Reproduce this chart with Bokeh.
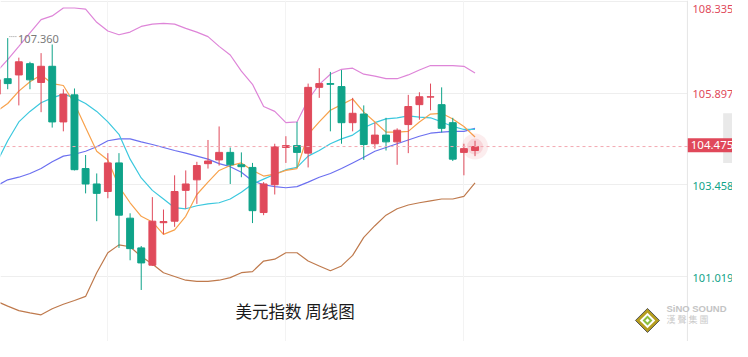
import numpy as np
from bokeh.plotting import figure
from bokeh.models import Range1d, Span, Label, Grid, FixedTicker, ColumnDataSource, BoxAnnotation
from bokeh.embed import file_html
from bokeh.resources import INLINE

# ---------------- data (weekly US Dollar Index) ----------------
opens = [105.87, 106.28, 106.38, 106.68, 106.18, 106.61, 105.13, 105.85, 103.89, 103.48,
         103.28, 104.04, 102.57, 101.78, 101.32, 102.45, 102.49, 103.31, 103.59, 104.02,
         104.12, 104.32, 103.99, 103.92, 102.72, 103.46, 104.45, 104.50, 104.30, 106.05,
         106.15, 106.07, 105.11, 105.34, 104.55, 104.78, 104.60, 105.06, 105.59, 105.79,
         105.59, 105.11, 104.32, 104.37]
highs = [106.33, 107.36, 106.84, 106.73, 106.96, 107.19, 106.00, 106.02, 104.25, 103.76,
         104.30, 104.30, 102.70, 101.83, 103.13, 102.80, 103.71, 103.84, 104.07, 104.65,
         105.01, 104.45, 104.32, 104.04, 103.53, 104.55, 104.75, 105.13, 106.15, 106.56,
         106.46, 106.51, 105.77, 105.57, 105.11, 105.24, 104.96, 105.85, 105.92, 106.15,
         106.05, 105.24, 104.55, 104.63]
lows = [105.57, 106.00, 105.57, 106.00, 105.39, 104.98, 104.88, 103.84, 103.23, 102.49,
        103.10, 101.78, 101.45, 100.66, 101.30, 102.14, 102.34, 102.82, 102.95, 103.89,
        103.97, 103.48, 103.66, 102.44, 102.65, 103.20, 104.04, 103.92, 103.92, 105.77,
        104.88, 104.55, 104.88, 104.12, 104.42, 104.37, 103.99, 104.30, 105.19, 105.44,
        104.85, 104.09, 103.71, 104.22]
closes = [106.25, 106.15, 106.73, 106.25, 106.61, 105.13, 105.87, 103.86, 103.48, 103.23,
          104.04, 102.65, 101.76, 101.38, 102.49, 102.48, 103.28, 103.48, 103.97, 104.09,
          104.32, 103.99, 103.94, 102.77, 103.48, 104.47, 104.50, 104.32, 106.05, 106.15,
          106.13, 105.11, 105.36, 104.53, 104.78, 104.60, 104.91, 105.54, 105.80, 105.80,
          104.96, 104.14, 104.42, 104.475]

ma5 = [105.41, 105.62, 105.95, 106.20, 106.38, 106.15, 106.10, 105.62, 104.98, 104.35,
       104.12, 103.41, 102.98, 102.62, 102.47, 102.14, 102.26, 102.62, 103.20, 103.53,
       103.84, 103.97, 104.04, 103.84, 103.69, 103.74, 103.84, 103.89, 104.80, 105.13,
       105.44, 105.59, 105.74, 105.39, 105.13, 104.86, 104.86, 104.88, 105.13, 105.34,
       105.36, 105.21, 105.01, 104.73]
ma10 = [104.04, 104.63, 105.13, 105.41, 105.64, 105.77, 105.87, 105.77, 105.62, 105.41,
        105.13, 104.80, 104.14, 103.64, 103.31, 103.08, 102.85, 102.82, 102.90, 102.95,
        102.98, 103.08, 103.26, 103.48, 103.61, 103.74, 103.86, 103.92, 104.22, 104.37,
        104.55, 104.68, 104.78, 104.98, 105.11, 105.21, 105.24, 105.29, 105.26, 105.24,
        105.13, 105.01, 104.93, 104.93]
ma20 = [103.43, 103.59, 103.66, 103.76, 103.89, 104.07, 104.22, 104.27, 104.35, 104.47,
        104.63, 104.68, 104.68, 104.60, 104.53, 104.45, 104.37, 104.30, 104.22, 104.14,
        104.02, 103.94, 103.79, 103.56, 103.46, 103.41, 103.38, 103.41, 103.53, 103.66,
        103.76, 103.89, 104.04, 104.19, 104.35, 104.45, 104.55, 104.65, 104.75, 104.83,
        104.86, 104.88, 104.88, 104.96]
boll_upper = [106.46, 106.79, 107.14, 107.50, 107.85, 107.95, 108.16, 108.16, 108.13, 107.78,
              107.55, 107.45, 107.52, 107.67, 107.73, 107.75, 107.73, 107.62, 107.52, 107.40,
              107.14, 106.91, 106.48, 106.13, 105.54, 105.41, 105.11, 105.13, 105.72, 106.13,
              106.40, 106.53, 106.56, 106.40, 106.35, 106.28, 106.28, 106.38, 106.51, 106.63,
              106.63, 106.63, 106.61, 106.43]
boll_lower = [100.36, 100.23, 100.11, 100.05, 100.00, 100.16, 100.28, 100.38, 100.49, 101.12,
              101.65, 101.86, 101.81, 101.55, 101.35, 101.12, 101.02, 100.92, 100.89, 100.89,
              100.92, 100.99, 101.12, 101.15, 101.43, 101.48, 101.65, 101.65, 101.43, 101.30,
              101.17, 101.30, 101.58, 102.06, 102.37, 102.65, 102.82, 102.92, 102.98, 103.03,
              103.08, 103.08, 103.15, 103.51]

y_ticks_up = [108.335, 105.897]
y_ticks_down = [103.458, 101.019]
last_price = 104.475
peak_text = "107.360"
title_text = "美元指数 周线图"

# ---------------- styling ----------------
RED = "#e04a5b"
GREEN = "#0fa389"
NUM_FONT = "Noto Sans"
CJK_FONT = "Noto Sans CJK SC"
PANEL_EDGE = 62.09          # x position of the price-scale border

idx = np.arange(len(opens))
colors = [RED if c >= o else GREEN for o, c in zip(opens, closes)]
src = ColumnDataSource(dict(
    x=idx,
    top=np.maximum(opens, closes),
    bottom=np.minimum(opens, closes),
    high=highs, low=lows, color=colors,
))

p = figure(width=732, height=341,
           x_range=Range1d(0.352, 66.14), y_range=Range1d(99.29, 108.36),
           x_axis_location=None, y_axis_location=None,
           output_backend="svg", toolbar_location=None,
           min_border_left=0, min_border_top=0, min_border_bottom=0, min_border_right=0)
p.outline_line_color = None
p.background_fill_color = "white"
p.border_fill_color = "white"
p.grid.visible = False

p.add_layout(Grid(dimension=1, ticker=FixedTicker(ticks=y_ticks_up + y_ticks_down),
                  grid_line_color="#eeeeee", grid_line_width=1))
p.add_layout(Grid(dimension=0, ticker=FixedTicker(ticks=[10, 26, 42]),
                  grid_line_color="#f3f3f3", grid_line_width=1))
# blank price-scale panel (hides grid lines right of the border)
p.add_layout(BoxAnnotation(left=PANEL_EDGE, fill_color="white", fill_alpha=1.0,
                           line_color=None, level="underlay"))
# right border of price panel
p.add_layout(Span(location=PANEL_EDGE, dimension="height", line_color="#e6e6e6", line_width=1))

# moving averages & bands
p.line(idx, boll_upper, line_color="#de85d8", line_width=1.2)
p.line(idx, boll_lower, line_color="#bf7a4d", line_width=1.2)
p.line(idx, ma20, line_color="#6c70f0", line_width=1.2)
p.line(idx, ma10, line_color="#3cc8de", line_width=1.2)
p.line(idx, ma5, line_color="#f8a24c", line_width=1.2)

# last price dashed line
p.add_layout(Span(location=last_price, dimension="width", line_color="#f3a9b2",
                  line_dash="3 3", line_width=1))

# candles
p.segment(x0="x", y0="high", x1="x", y1="low", line_color="color", line_width=1, source=src)
p.vbar(x="x", width=0.62, top="top", bottom="bottom", fill_color="color",
       line_color="color", line_width=1, source=src)

# glow on last candle
p.scatter([idx[-1]], [last_price], size=26, marker="circle", fill_color=RED,
          fill_alpha=0.10, line_color=None)
p.scatter([idx[-1]], [last_price], size=16, marker="circle", fill_color=RED,
          fill_alpha=0.14, line_color=None)

# peak label
p.segment(x0=[1.15], y0=[107.40], x1=[1.85], y1=[107.40], line_color="#999999",
          line_dash="1 1", line_width=1)
p.add_layout(Label(x=1.93, y=107.33, text=peak_text, text_font=NUM_FONT,
                   text_font_size="11px", text_color="#7a7a7a",
                   text_align="left", text_baseline="middle"))

# price axis labels
for val, ypos, col in [(y_ticks_up[0], 108.13, RED), (y_ticks_up[1], 105.86, RED),
                       (y_ticks_down[0], 103.42, GREEN), (y_ticks_down[1], 100.97, GREEN)]:
    p.add_layout(Label(x=62.55, y=ypos, text=f"{val:.3f}", text_font=NUM_FONT,
                       text_font_size="11px", text_color=col,
                       text_align="left", text_baseline="middle"))

# scroll tab on the right edge
p.add_layout(BoxAnnotation(left=65.3, right=66.14, top=105.36, bottom=104.04,
                           fill_color="#e9e9e9", fill_alpha=1.0, line_color=None))

# last price tag
p.add_layout(Label(x=PANEL_EDGE + 0.03, y=104.51, text=f"{last_price:.3f}", text_font=NUM_FONT,
                   text_font_size="11.5px", text_color="white",
                   background_fill_color="#e0485a", padding=3,
                   text_align="left", text_baseline="middle"))

# title
p.add_layout(Label(x=26.83, y=100.11, text=title_text, text_font=CJK_FONT,
                   text_font_size="16.5px", text_color="#1a1a1a",
                   text_align="center", text_baseline="middle"))

# logo
lx, ly = 58.5, 99.85
p.scatter([lx], [ly], marker="square", angle=np.pi / 4, size=17,
          fill_color="#b59d1e", line_color="#555555", line_width=1)
p.scatter([lx], [ly], marker="square", angle=np.pi / 4, size=11,
          fill_color="white", line_color=None)
p.scatter([lx], [ly], marker="square", angle=np.pi / 4, size=7,
          fill_color="#8cbf3f", line_color=None)
p.scatter([lx], [ly], marker="square", angle=np.pi / 4, size=3,
          fill_color="white", line_color=None)
p.add_layout(Label(x=60.2, y=100.18, text="SiNO SOUND", text_font="Liberation Sans",
                   text_font_size="9.5px", text_font_style="bold", text_color="#c4c4c4",
                   text_align="left", text_baseline="middle"))
p.add_layout(Label(x=60.2, y=99.88, text="漢 聲 集 團", text_font=CJK_FONT,
                   text_font_size="9px", text_color="#cacaca",
                   text_align="left", text_baseline="middle"))

open("out.html", "w").write(file_html(p, INLINE))
